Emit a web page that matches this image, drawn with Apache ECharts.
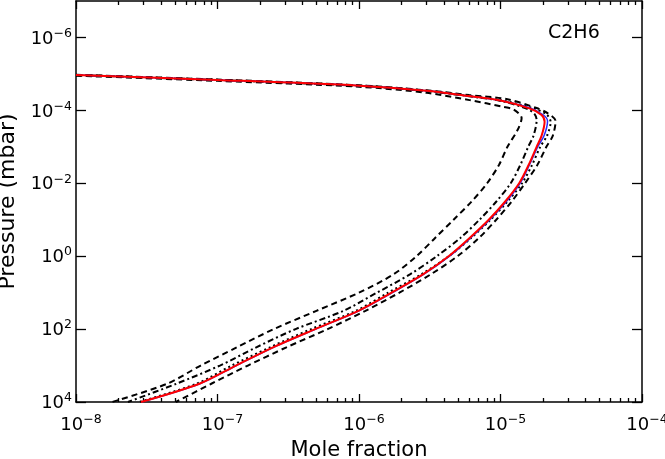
<!DOCTYPE html>
<html><head><meta charset="utf-8">
<script src="https://cdn.jsdelivr.net/npm/echarts@6/dist/echarts.min.js"></script>
<style>html,body{margin:0;padding:0;background:#fff}#c{width:665px;height:459px}</style>
</head><body><div id="c"></div>
<script>
// ---- data (mole fraction, pressure in mbar) ----
const chartTitle = 'C2H6';
const xTickExponents = [-8, -7, -6, -5, -4];
const yTickExponents = [-6, -4, -2, 0, 2, 4];

const redX = [1.0e-8, 1.0e-7, 1.0e-6, 3.0e-6, 6.0e-6, 1.0e-5, 1.6e-5, 1.95e-5, 2.05e-5, 1.95e-5, 1.80e-5, 1.58e-5, 1.355e-5, 1.08e-5, 8.26e-6, 6.05e-6, 4.30e-6, 2.83e-6, 1.70e-6, 9.9e-7, 4.90e-7, 2.47e-7, 1.35e-7, 7.45e-8, 2.88e-8];
const redP = [1.07e-5, 1.46e-5, 2.10e-5, 2.90e-5, 4.05e-5, 5.35e-5, 8.8e-5, 1.34e-4, 2.05e-4, 5.0e-4, 1.0e-3, 3.16e-3, 1.0e-2, 3.16e-2, 0.1, 0.316, 1, 3.16, 10, 31.6, 100, 316, 1000, 3160, 1.0e4];

const blueX = [1.0e-8, 1.0e-7, 1.0e-6, 3.0e-6, 6.0e-6, 1.0e-5, 1.63e-5, 2.0e-5, 2.15e-5, 2.03e-5, 1.83e-5, 1.60e-5, 1.375e-5, 1.10e-5, 8.40e-6, 6.14e-6, 4.36e-6, 2.86e-6, 1.72e-6, 1.0e-6, 4.95e-7, 2.49e-7, 1.36e-7, 7.5e-8, 2.9e-8];
const blueP = [1.07e-5, 1.46e-5, 2.10e-5, 2.90e-5, 4.05e-5, 5.35e-5, 8.7e-5, 1.32e-4, 1.96e-4, 5.0e-4, 1.0e-3, 3.16e-3, 1.0e-2, 3.16e-2, 0.1, 0.316, 1, 3.16, 10, 31.6, 100, 316, 1000, 3160, 1.0e4];

const dottedX = [1.0e-8, 1.0e-7, 1.0e-6, 3.0e-6, 6.0e-6, 1.0e-5, 1.69e-5, 2.12e-5, 2.26e-5, 2.13e-5, 1.91e-5, 1.67e-5, 1.42e-5, 1.12e-5, 8.50e-6, 6.2e-6, 4.32e-6, 2.75e-6, 1.61e-6, 9.5e-7, 4.59e-7, 2.35e-7, 1.26e-7, 7.1e-8, 2.79e-8];
const dottedP = [1.07e-5, 1.45e-5, 2.08e-5, 2.88e-5, 4.0e-5, 5.25e-5, 8.65e-5, 1.3e-4, 2.09e-4, 5.0e-4, 1.0e-3, 3.16e-3, 1.0e-2, 3.16e-2, 0.1, 0.316, 1, 3.16, 10, 31.6, 100, 316, 1000, 3160, 1.0e4];

const dashDotX = [1.0e-8, 1.0e-7, 1.0e-6, 3.0e-6, 6.0e-6, 1.0e-5, 1.56e-5, 1.75e-5, 1.80e-5, 1.71e-5, 1.57e-5, 1.38e-5, 1.18e-5, 9.35e-6, 7.10e-6, 5.20e-6, 3.55e-6, 2.29e-6, 1.34e-6, 7.76e-7, 3.56e-7, 1.88e-7, 1.04e-7, 5.12e-8, 2.33e-8];
const dashDotP = [1.07e-5, 1.47e-5, 2.12e-5, 2.95e-5, 4.1e-5, 5.5e-5, 9.2e-5, 1.3e-4, 1.85e-4, 5.0e-4, 1.0e-3, 3.16e-3, 1.0e-2, 3.16e-2, 0.1, 0.316, 1, 3.16, 10, 31.6, 100, 316, 1000, 3160, 1.0e4];

const dashedInnerX = [1.0e-8, 1.0e-7, 1.0e-6, 3.0e-6, 6.05e-6, 1.04e-5, 1.24e-5, 1.41e-5, 1.32e-5, 1.12e-5, 9.75e-6, 8.04e-6, 6.25e-6, 4.66e-6, 3.45e-6, 2.55e-6, 1.75e-6, 1.0e-6, 5.0e-7, 2.5e-7, 1.37e-7, 7.6e-8, 4.4e-8, 1.8e-8];
const dashedInnerP = [1.12e-5, 1.55e-5, 2.25e-5, 3.29e-5, 5.24e-5, 7.96e-5, 9.5e-5, 1.63e-4, 3.47e-4, 1.0e-3, 3.16e-3, 1.0e-2, 3.16e-2, 0.1, 0.316, 1, 3.16, 10, 31.6, 100, 316, 1000, 3160, 1.0e4];

const dashedOuterX = [1.0e-8, 1.0e-7, 1.0e-6, 3.0e-6, 6.0e-6, 1.1e-5, 1.8e-5, 2.15e-5, 2.45e-5, 2.34e-5, 2.11e-5, 1.82e-5, 1.49e-5, 1.2e-5, 9.33e-6, 7.05e-6, 4.97e-6, 3.21e-6, 1.93e-6, 1.11e-6, 6.0e-7, 3.07e-7, 1.64e-7, 9.04e-8, 5.08e-8];
const dashedOuterP = [1.05e-5, 1.43e-5, 2.05e-5, 2.82e-5, 3.8e-5, 4.9e-5, 8.65e-5, 1.19e-4, 1.96e-4, 5.0e-4, 1.0e-3, 3.16e-3, 1.0e-2, 3.16e-2, 0.1, 0.316, 1, 3.16, 10, 31.6, 100, 316, 1000, 3160, 1.0e4];

// ---- build ----
const FONT = 'DejaVu Sans';
function pts(xs, ps) { return xs.map((x, i) => [Math.log10(x), Math.log10(ps[i])]); }
const xMinor = [];
for (let n = -8; n < -4; n++) for (let k = 2; k <= 9; k++) xMinor.push(n + Math.log10(k));

const rich = {
  b: { fontFamily: FONT, fontSize: 18, color: '#000', lineHeight: 21, verticalAlign: 'bottom' },
  s: { fontFamily: FONT, fontSize: 12.5, color: '#000', lineHeight: 13, verticalAlign: 'top' }
};
function fmt(v) {
  const e = Math.round(v);
  return '{b|10}{s|' + (e < 0 ? '\u2212' + (-e) : String(e)) + '}';
}
const axLine = { show: true, onZero: false, lineStyle: { color: '#000', width: 1.5 } };
function xAx(pos, minor, labels) {
  return {
    type: 'value', min: -8, max: -4, position: pos, gridIndex: 0,
    axisLine: minor ? { show: false, onZero: false } : axLine,
    splitLine: { show: false },
    axisTick: { show: true, inside: true, length: minor ? 4 : 8, customValues: minor ? xMinor : xTickExponents,
      lineStyle: { color: '#000', width: 1.3 } },
    axisLabel: labels ? { show: true, customValues: xTickExponents, formatter: fmt, rich: rich, margin: 11, padding: [0, 0, 0, 10] } : { show: false }
  };
}
const yBase = (pos, labels) => ({
  type: 'value', min: -7, max: 4, inverse: true, position: pos, gridIndex: 0,
  axisLine: axLine, splitLine: { show: false },
  axisTick: { show: true, inside: true, length: 10, customValues: yTickExponents, lineStyle: { color: '#000', width: 1.3 } },
  axisLabel: labels ? { show: true, customValues: yTickExponents, formatter: fmt, rich: rich, margin: 4 } : { show: false }
});

const xAxes = [xAx('bottom', false, true), xAx('bottom', true, false), xAx('top', false, false), xAx('top', true, false)];
xAxes[0].name = 'Mole fraction';
xAxes[0].nameLocation = 'middle';
xAxes[0].nameGap = 38;
xAxes[0].nameTextStyle = { fontFamily: FONT, fontSize: 21, color: '#000' };
const yAxes = [yBase('left', true), yBase('right', false)];
yAxes[0].name = 'Pressure (mbar)';
yAxes[0].nameLocation = 'middle';
yAxes[0].nameGap = 53;
yAxes[0].nameRotate = 90;
yAxes[0].nameTextStyle = { fontFamily: FONT, fontSize: 22, color: '#000' };

function ser(name, xs, ps, color, width, type, z) {
  return { name, type: 'line', xAxisIndex: 0, yAxisIndex: 0, data: pts(xs, ps), showSymbol: false, smooth: 0.3,
    clip: true, z: z, lineStyle: { color: color, width: width, type: type }, emphasis: { disabled: true } };
}

const option = {
  animation: false,
  backgroundColor: '#fff',
  title: { text: chartTitle, left: 548, top: 24, padding: 0,
    textStyle: { fontFamily: FONT, fontSize: 19, fontWeight: 'normal', color: '#000' } },
  grid: { left: 76, right: 23, top: 1, bottom: 57, containLabel: false, outerBoundsMode: 'none' },
  xAxis: xAxes,
  yAxis: yAxes,
  series: [
    ser('dashed inner', dashedInnerX, dashedInnerP, '#000', 2, [6, 4], 2),
    ser('dashed outer', dashedOuterX, dashedOuterP, '#000', 2, [6, 4], 2),
    ser('dash-dot', dashDotX, dashDotP, '#000', 2, [6, 3, 2, 3], 2),
    ser('dotted', dottedX, dottedP, '#000', 2, [2, 3], 2),
    ser('blue', blueX, blueP, '#2a2aff', 1.5, 'solid', 3),
    ser('red', redX, redP, '#ff0000', 2, 'solid', 4)
  ]
};
const chart = echarts.init(document.getElementById('c'));
chart.setOption(option);
</script>
</body></html>
